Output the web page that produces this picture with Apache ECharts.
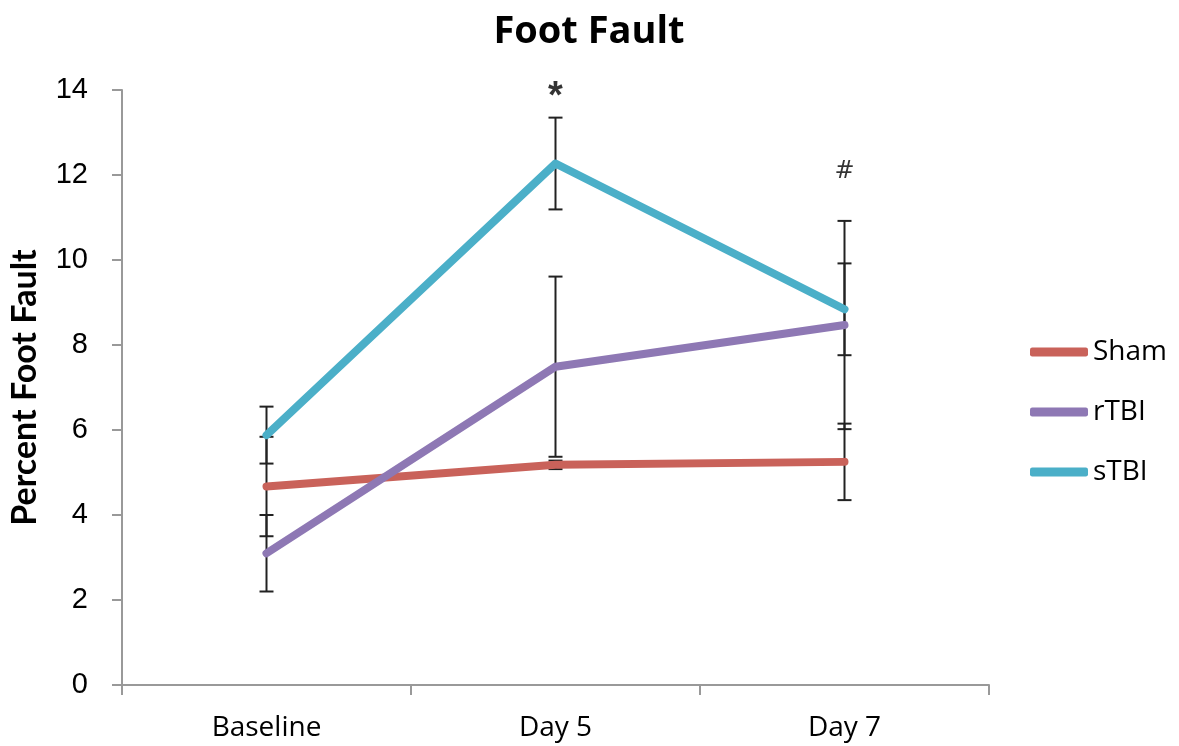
<!DOCTYPE html>
<html>
<head>
<meta charset="utf-8">
<script src="https://cdn.jsdelivr.net/npm/echarts@6/dist/echarts.min.js"></script>
<style>
  html, body { margin: 0; padding: 0; background: #fff; }
  #chart { width: 1179px; height: 746px; }
</style>
</head>
<body>
<div id="chart"></div>
<script>
// data
const categories = ['Baseline', 'Day 5', 'Day 7'];
const shamValues = [4.67, 5.18, 5.25];
const shamErrors = [1.17, 0.1, 0.9];
const rtbiValues = [3.1, 7.49, 8.47];
const rtbiErrors = [0.9, 2.12, 2.45];
const stbiValues = [5.88, 12.27, 8.84];
const stbiErrors = [0.67, 1.08, 1.08];
const markCategories = ['Day 5', 'Day 7'];
const markValues = [13.82, 12.07];
const markTexts = ['*', '#'];

const colors = { sham: '#C9625A', rtbi: '#8E78B4', stbi: '#4BAFC8' };
// asterisk is bold and big, hash is thin and small
const markLabelStyles = [
  { fontFamily: 'Liberation Sans', fontWeight: 'bold', fontSize: 38 },
  { fontFamily: 'DejaVu Sans', fontWeight: 'normal', fontSize: 24 }
];

const errorSeries = (values, errors) => ({
  type: 'custom',
  z: 1,
  silent: true,
  data: values.map((v, i) => [i, v, errors[i]]),
  encode: { x: 0, y: 1 },
  renderItem: (params, api) => {
    const i = api.value(0), v = api.value(1), e = api.value(2);
    const top = api.coord([i, v + e]);
    const bot = api.coord([i, v - e]);
    const hw = 7;
    const style = { stroke: '#222', lineWidth: 2 };
    return {
      type: 'group',
      children: [
        { type: 'line', shape: { x1: top[0], y1: top[1], x2: bot[0], y2: bot[1] }, style },
        { type: 'line', shape: { x1: top[0] - hw, y1: top[1], x2: top[0] + hw, y2: top[1] }, style },
        { type: 'line', shape: { x1: bot[0] - hw, y1: bot[1], x2: bot[0] + hw, y2: bot[1] }, style }
      ]
    };
  }
});

const lineSeries = (name, values, color) => ({
  name,
  type: 'line',
  z: 3,
  data: values,
  symbol: 'none',
  color,
  lineStyle: { width: 8, color, cap: 'round', join: 'round' }
});

const chart = echarts.init(document.getElementById('chart'));
chart.setOption({
  animation: false,
  title: {
    text: 'Foot Fault',
    left: 584,
    top: 8,
    textAlign: 'center',
    textStyle: { fontFamily: 'Open Sans', fontWeight: 'bold', fontSize: 38, color: '#000' }
  },
  legend: {
    data: ['Sham', 'rTBI', 'sTBI'],
    orient: 'vertical',
    left: 1025,
    top: 333,
    itemGap: 32,
    itemWidth: 58,
    itemHeight: 9,
    icon: 'roundRect',
    textStyle: { fontFamily: 'Open Sans', fontSize: 28, color: '#000' }
  },
  grid: { left: 122, right: 190, top: 90, bottom: 61, outerBoundsMode: 'none', containLabel: false },
  xAxis: {
    type: 'category',
    data: categories,
    axisLine: { lineStyle: { color: '#999', width: 2 } },
    axisTick: { show: true, length: 10, lineStyle: { color: '#999', width: 2 } },
    axisLabel: { fontFamily: 'Open Sans', fontSize: 28, color: '#000', margin: 29 }
  },
  yAxis: {
    type: 'value',
    min: 0,
    max: 14,
    interval: 2,
    name: 'Percent Foot Fault',
    nameLocation: 'middle',
    nameGap: 80,
    nameTextStyle: { fontFamily: 'Lato', fontWeight: 'bold', fontSize: 34, color: '#000' },
    axisLine: { show: true, lineStyle: { color: '#999', width: 2 } },
    axisTick: { show: true, length: 10, lineStyle: { color: '#999', width: 2 } },
    splitLine: { show: false },
    axisLabel: { fontFamily: 'Liberation Sans', fontSize: 29, color: '#000', margin: 34 }
  },
  series: [
    errorSeries(shamValues, shamErrors),
    errorSeries(rtbiValues, rtbiErrors),
    errorSeries(stbiValues, stbiErrors),
    lineSeries('Sham', shamValues, colors.sham),
    lineSeries('rTBI', rtbiValues, colors.rtbi),
    lineSeries('sTBI', stbiValues, colors.stbi),
    {
      type: 'scatter',
      symbolSize: 0,
      silent: true,
      data: markCategories.map((c, i) => ({
        value: [c, markValues[i]],
        label: Object.assign({ formatter: markTexts[i] }, markLabelStyles[i])
      })),
      label: { show: true, position: 'inside', color: '#000' }
    }
  ]
});
</script>
</body>
</html>
